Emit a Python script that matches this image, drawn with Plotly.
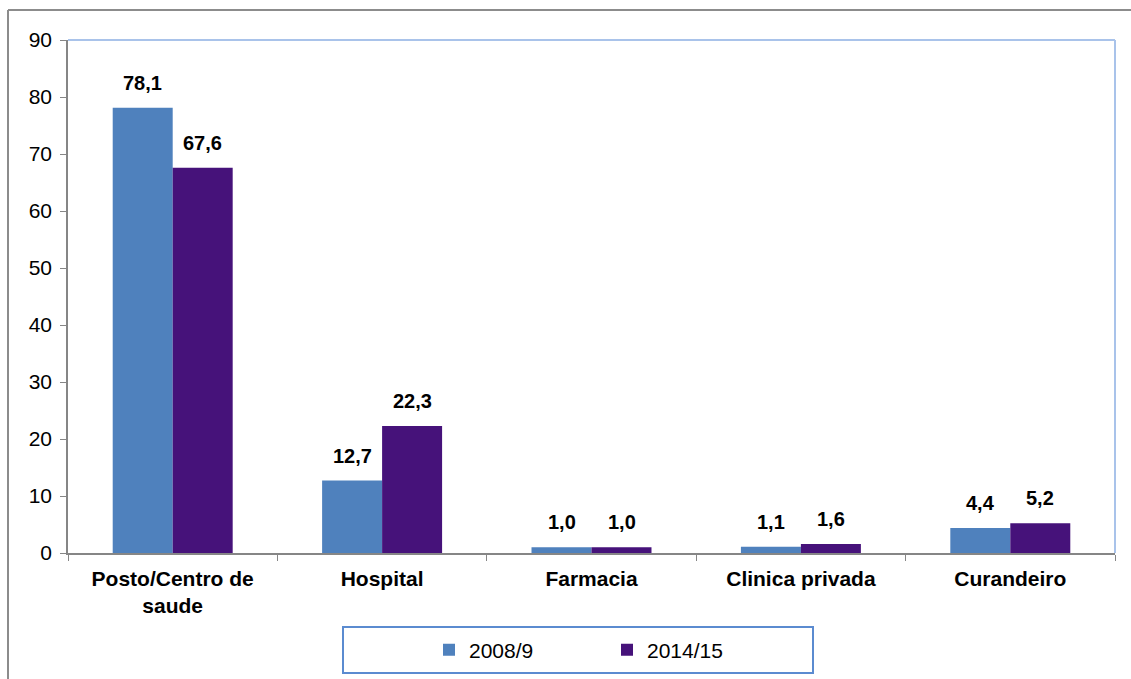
import plotly.graph_objects as go

# Data
categories = ["Posto/Centro de<br>saude", "Hospital", "Farmacia", "Clinica privada", "Curandeiro"]
series_names = ["2008/9", "2014/15"]
values_2008 = [78.1, 12.7, 1.0, 1.1, 4.4]
values_2014 = [67.6, 22.3, 1.0, 1.6, 5.2]
y_ticks = [0, 10, 20, 30, 40, 50, 60, 70, 80, 90]

W, H = 1131, 679
L, R, T, B = 68, 16, 40, 126
PW, PH = W - L - R, H - T - B

def px_x(x):
    return (x - L) / PW

def px_y(y):
    return (H - B - y) / PH

FONT = "Arial, Liberation Sans, sans-serif"
BLUE = "#4f81bd"
PURPLE = "#46127a"

fig = go.Figure()
fig.add_trace(go.Bar(x=categories, y=values_2008, name=series_names[0],
                     marker=dict(color=BLUE, line=dict(width=0))))
fig.add_trace(go.Bar(x=categories, y=values_2014, name=series_names[1],
                     marker=dict(color=PURPLE, line=dict(width=0))))

# value labels above each bar
for vals, shift in ((values_2008, -30), (values_2014, 30)):
    for c, v in zip(categories, vals):
        fig.add_annotation(x=c, y=v, xshift=shift, yshift=12, yanchor="bottom",
                           text=f"{v:.1f}".replace(".", ","), showarrow=False,
                           font=dict(family=FONT, size=20, color="black", weight="bold"))

shapes = [
    # outer chart frame (top and left edges)
    dict(type="line", xref="paper", yref="paper", x0=px_x(8), x1=px_x(W + 5),
         y0=px_y(10), y1=px_y(10), line=dict(color="#8c8c8c", width=2)),
    dict(type="line", xref="paper", yref="paper", x0=px_x(8), x1=px_x(8),
         y0=px_y(10), y1=px_y(H + 5), line=dict(color="#8c8c8c", width=2)),
    # plot area border (top and right)
    dict(type="line", xref="paper", yref="paper", x0=0, x1=1, y0=1, y1=1,
         line=dict(color="#a9c3ea", width=2)),
    dict(type="line", xref="paper", yref="paper", x0=1, x1=1, y0=0, y1=1,
         line=dict(color="#a9c3ea", width=2)),
    # legend box
    dict(type="rect", xref="paper", yref="paper", x0=px_x(343), x1=px_x(813),
         y0=px_y(673), y1=px_y(627), line=dict(color="#5b8bd0", width=2),
         fillcolor="rgba(0,0,0,0)"),
]

fig.update_layout(
    width=W, height=H,
    margin=dict(l=L, r=R, t=T, b=B, autoexpand=False),
    paper_bgcolor="white", plot_bgcolor="white",
    barmode="group", bargap=0.427, bargroupgap=0,
    font=dict(family=FONT, size=20, color="black"),
    showlegend=True,
    legend=dict(orientation="h", x=px_x(429), xanchor="left", y=px_y(650), yanchor="middle",
                entrywidth=133, entrywidthmode="pixels", bgcolor="rgba(0,0,0,0)",
                font=dict(family=FONT, size=21, color="black")),
    shapes=shapes,
    xaxis=dict(showline=True, linecolor="#868686", linewidth=1.5, ticks="outside",
               tickson="boundaries", ticklen=6, tickcolor="#868686", showgrid=False,
               ticklabelstandoff=6,
               tickfont=dict(family=FONT, size=21, color="black", weight="bold")),
    yaxis=dict(range=[0, 90], tickvals=y_ticks, showline=True, linecolor="#868686",
               linewidth=1.5, ticks="outside", ticklen=6, tickcolor="#868686",
               showgrid=False, zeroline=False, ticklabelstandoff=4,
               tickfont=dict(family=FONT, size=21, color="black")),
)

fig.write_html("out.html")
